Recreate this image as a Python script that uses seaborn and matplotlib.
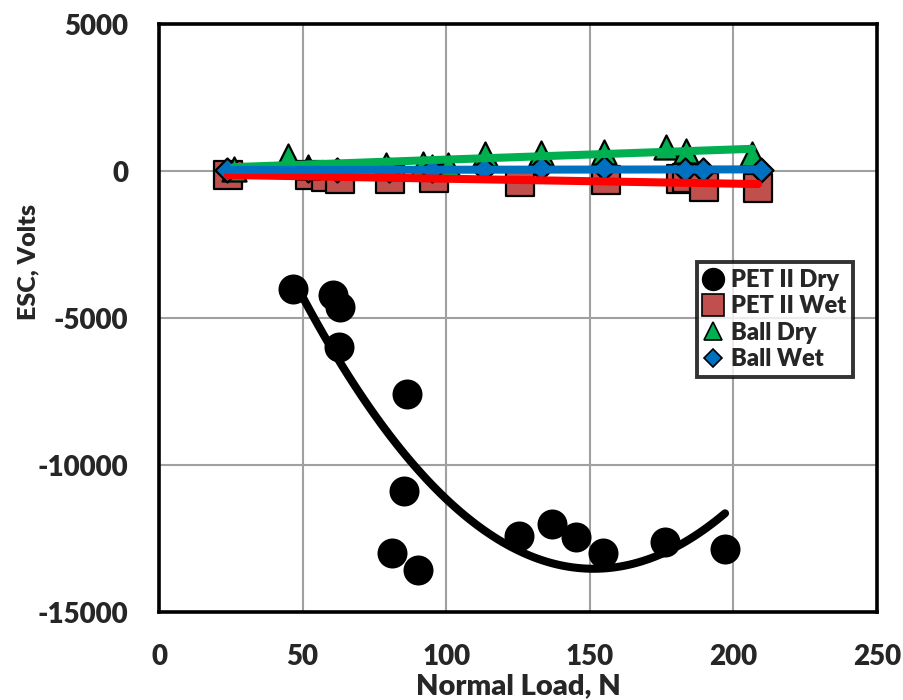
import numpy as np
import pandas as pd
import matplotlib
matplotlib.use("Agg")
import matplotlib.pyplot as plt
from matplotlib.lines import Line2D
import seaborn as sns

# Normal load (N) and electrostatic charge (V) for each test series
pet_dry_load = [46.7, 60.6, 63.0, 62.7, 86.4, 85.3, 81.1, 90.2, 125.3, 136.8, 145.2, 154.6, 176.2, 197.1]
pet_dry_esc = [-4010, -4220, -4630, -5990, -7590, -10880, -12990, -13570, -12410, -12010, -12450, -12990, -12620, -12860]

pet_wet_load = [24.0, 52.6, 58.3, 63.0, 80.6, 95.9, 125.7, 155.6, 181.6, 184.0, 189.6, 208.6]
pet_wet_esc = [-136, -120, -190, -270, -270, -240, -360, -300, -270, -250, -530, -580]

ball_dry_load = [26.0, 45.0, 52.0, 79.0, 92.0, 95.0, 100.5, 113.5, 133.0, 155.0, 176.5, 183.5, 206.5]
ball_dry_esc = [85, 527, 150, 220, 255, 150, 220, 595, 629, 663, 800, 697, 595]

ball_wet_load = [23.7, 52.0, 62.0, 80.0, 95.0, 113.0, 133.0, 155.0, 183.0, 189.5, 209.6]
ball_wet_esc = [30, 30, 20, 40, 30, 60, 100, 90, 40, 30, 30]

x_ticks = [0, 50, 100, 150, 200, 250]
y_ticks = [-15000, -10000, -5000, 0, 5000]

sns.set_theme(style="white")
plt.rcParams["font.family"] = ["Lato", "DejaVu Sans"]
plt.rcParams["font.weight"] = "heavy"

fig = plt.figure(figsize=(9.04, 7.0), dpi=100)
ax = fig.add_axes([0.1759, 0.1257, 0.7942, 0.8400])

series = [
    ("PET II Dry", pet_dry_load, pet_dry_esc, "o", "black", 400),
    ("PET II Wet", pet_wet_load, pet_wet_esc, "s", "#C0504D", 380),
    ("Ball Dry", ball_dry_load, ball_dry_esc, "^", "#00B050", 300),
    ("Ball Wet", ball_wet_load, ball_wet_esc, "D", "#0070C0", 150),
]

for i, (name, xs, ys, mk, col, size) in enumerate(series):
    df = pd.DataFrame({"load": xs, "esc": ys})
    sns.scatterplot(data=df, x="load", y="esc", marker=mk, s=size, color=col,
                    edgecolor="black", linewidth=1.6, ax=ax, zorder=3 + i, legend=False)

# Trendlines: quadratic for the dry PET film, linear for the others
trend_specs = [
    (pet_dry_load, pet_dry_esc, 2, "black"),
    (pet_wet_load, pet_wet_esc, 1, "#FF0000"),
    (ball_dry_load, ball_dry_esc, 1, "#00B050"),
    (ball_wet_load, ball_wet_esc, 1, "#0070C0"),
]
for j, (xs, ys, order, col) in enumerate(trend_specs):
    sns.regplot(x=np.array(xs), y=np.array(ys), order=order, ci=None, scatter=False,
                truncate=True, ax=ax,
                line_kws=dict(color=col, lw=5.8, solid_capstyle="round", zorder=10 + j))

ax.set_xlim(0, 250)
ax.set_ylim(-15000, 5000)
ax.set_xticks(x_ticks)
ax.set_yticks(y_ticks)
ax.set_xticklabels([str(t) for t in x_ticks], fontsize=20, fontweight="heavy")
ax.set_yticklabels([str(t) for t in y_ticks], fontsize=20, fontweight="heavy")
ax.tick_params(axis="x", length=0, pad=23)
ax.tick_params(axis="y", length=0, pad=22)
ax.grid(True, color="#A0A0A0", lw=1.5)
ax.set_axisbelow(True)
for s in ax.spines.values():
    s.set_color("black")
    s.set_linewidth(2.6)

ax.set_xlabel("Normal Load, N", fontsize=21, fontweight="heavy", labelpad=2)
ax.set_ylabel("ESC, Volts", fontsize=18, fontweight="heavy")
ax.yaxis.set_label_coords(-0.167, 0.595)

handles = [
    Line2D([], [], ls="none", marker=mk, markersize=np.sqrt(size) * 0.78,
           markerfacecolor=col, markeredgecolor="black", markeredgewidth=1.2, label=name)
    for (name, xs, ys, mk, col, size) in series
]
leg = ax.legend(handles=handles, loc="upper left", bbox_to_anchor=(0.749, 0.595),
                frameon=True, fancybox=False, fontsize=17, handlelength=0.8,
                handletextpad=0.35, labelspacing=0.18, borderpad=0.3, borderaxespad=0)
leg.get_frame().set_edgecolor("black")
leg.get_frame().set_linewidth(2.8)
leg.set_zorder(20)
for t in leg.get_texts():
    t.set_fontweight("heavy")

fig.savefig("out.png", dpi=100)
